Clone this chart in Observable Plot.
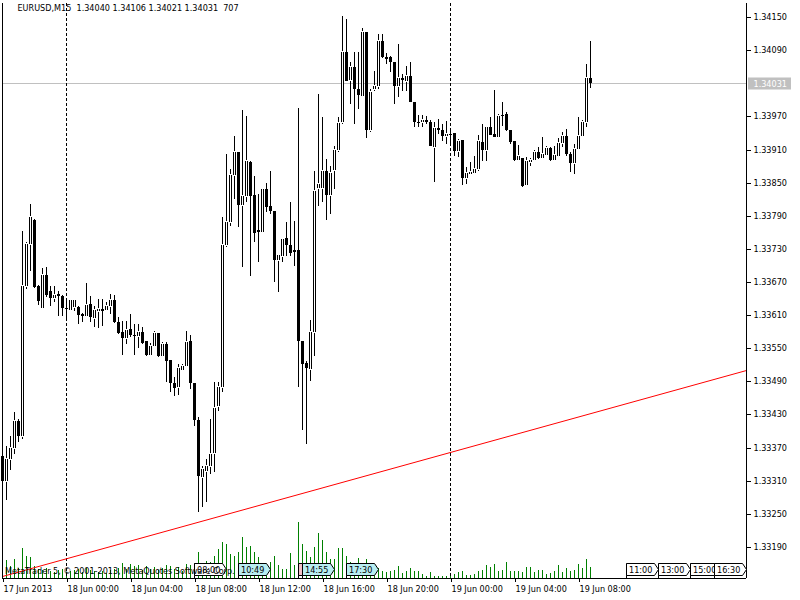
<!DOCTYPE html>
<html><head><meta charset="utf-8">
<script src="https://cdn.jsdelivr.net/npm/d3@7"></script>
<script src="https://cdn.jsdelivr.net/npm/@observablehq/plot@0.6"></script>
<style>
html,body{margin:0;padding:0;background:#fff;}
#chart{position:relative;width:800px;height:600px;overflow:hidden;background:#fff;}
#chart svg{position:absolute;left:0;top:0;}
</style></head><body><div id="chart"></div>
<script>
// ---------------- data ----------------
const symbol = "EURUSD,M15";
const startTime = "2013-06-17T20:00:00Z";   // first 15-minute bar
const barMinutes = 15;

const opens = [1.33355,1.33310,1.33350,1.33369,1.33418,1.33391,1.33663,1.33739,1.33782,1.33663,
1.33623,1.33683,1.33654,1.33641,1.33648,1.33645,1.33623,1.33619,1.33625,1.33625,
1.33612,1.33609,1.33630,1.33605,1.33618,1.33621,1.33619,1.33627,1.33637,1.33598,
1.33580,1.33569,1.33585,1.33574,1.33572,1.33580,1.33563,1.33538,1.33554,1.33578,
1.33536,1.33558,1.33529,1.33487,1.33480,1.33511,1.33518,1.33563,1.33487,1.33420,
1.33317,1.33328,1.33337,1.33360,1.33446,1.33480,1.33737,1.33779,1.33864,1.33905,
1.33810,1.33826,1.33887,1.33828,1.33764,1.33761,1.33839,1.33808,1.33799,1.33710,
1.33717,1.33750,1.33737,1.33728,1.33728,1.33563,1.33523,1.33513,1.33580,1.33840,
1.33840,1.33871,1.33828,1.33873,1.33909,1.33960,1.34087,1.34036,1.34059,1.34020,
1.34007,1.34123,1.33945,1.34020,1.34025,1.34107,1.34078,1.34078,1.34068,1.34025,
1.34040,1.34034,1.34043,1.33996,1.33960,1.33960,1.33963,1.33960,1.33915,1.33949,
1.33945,1.33934,1.33938,1.33940,1.33907,1.33927,1.33858,1.33866,1.33867,1.33875,
1.33924,1.33909,1.33951,1.33938,1.33933,1.33973,1.33974,1.33945,1.33925,1.33891,
1.33895,1.33846,1.33887,1.33891,1.33905,1.33895,1.33900,1.33913,1.33891,1.33898,
1.33922,1.33934,1.33902,1.33886,1.33911,1.33934,1.33960,1.34040];

const highs = [1.33377,1.33373,1.33391,1.33435,1.33422,1.33762,1.33743,1.33811,1.33785,1.33665,
1.33695,1.33697,1.33663,1.33663,1.33654,1.33647,1.33639,1.33639,1.33639,1.33627,
1.33614,1.33668,1.33645,1.33627,1.33639,1.33639,1.33634,1.33648,1.33647,1.33607,
1.33599,1.33599,1.33612,1.33594,1.33594,1.33589,1.33563,1.33560,1.33581,1.33578,
1.33561,1.33561,1.33529,1.33498,1.33522,1.33522,1.33581,1.33574,1.33487,1.33426,
1.33337,1.33350,1.33422,1.33489,1.33489,1.33788,1.33902,1.33875,1.33934,1.33905,
1.33982,1.33971,1.33889,1.33862,1.33829,1.33840,1.33849,1.33871,1.33799,1.33719,
1.33748,1.33779,1.33815,1.33781,1.33985,1.33563,1.33527,1.33601,1.33871,1.34011,
1.33969,1.33893,1.33880,1.33916,1.33969,1.34152,1.34146,1.34068,1.34087,1.34087,
1.34130,1.34123,1.34020,1.34052,1.34119,1.34119,1.34085,1.34079,1.34068,1.34101,
1.34047,1.34061,1.34068,1.33996,1.33973,1.33973,1.33971,1.33963,1.33960,1.33965,
1.33956,1.33962,1.33947,1.33940,1.33929,1.33927,1.33878,1.33887,1.33898,1.33936,
1.33956,1.33951,1.33969,1.34018,1.33974,1.33996,1.33978,1.33945,1.33925,1.33918,
1.33895,1.33896,1.33895,1.33909,1.33915,1.33933,1.33916,1.33915,1.33916,1.33931,
1.33942,1.33947,1.33905,1.33920,1.33969,1.33963,1.34065,1.34106];

const lows = [1.33277,1.33275,1.33330,1.33359,1.33380,1.33386,1.33657,1.33690,1.33659,1.33628,
1.33623,1.33643,1.33627,1.33634,1.33609,1.33609,1.33599,1.33618,1.33618,1.33594,
1.33598,1.33607,1.33598,1.33589,1.33587,1.33590,1.33618,1.33612,1.33596,1.33576,
1.33538,1.33558,1.33570,1.33538,1.33551,1.33558,1.33536,1.33536,1.33552,1.33534,
1.33534,1.33489,1.33471,1.33464,1.33465,1.33509,1.33516,1.33476,1.33409,1.33254,
1.33263,1.33272,1.33322,1.33326,1.33436,1.33471,1.33733,1.33771,1.33820,1.33770,
1.33697,1.33815,1.33681,1.33743,1.33706,1.33759,1.33797,1.33793,1.33670,1.33652,
1.33706,1.33717,1.33717,1.33699,1.33480,1.33402,1.33377,1.33491,1.33536,1.33808,
1.33815,1.33782,1.33793,1.33839,1.33905,1.33956,1.34034,1.33992,1.33956,1.33983,
1.34005,1.33931,1.33942,1.34016,1.34020,1.34076,1.34065,1.34050,1.33992,1.34005,
1.34016,1.34016,1.33996,1.33951,1.33951,1.33951,1.33956,1.33916,1.33851,1.33938,
1.33925,1.33920,1.33920,1.33898,1.33896,1.33846,1.33848,1.33866,1.33867,1.33871,
1.33889,1.33889,1.33936,1.33933,1.33933,1.33953,1.33944,1.33920,1.33889,1.33891,
1.33842,1.33846,1.33880,1.33889,1.33893,1.33893,1.33898,1.33889,1.33889,1.33898,
1.33915,1.33898,1.33869,1.33866,1.33911,1.33933,1.33951,1.34021];

const closes = [1.33310,1.33350,1.33369,1.33418,1.33391,1.33663,1.33739,1.33788,1.33661,1.33636,
1.33683,1.33647,1.33641,1.33647,1.33645,1.33623,1.33621,1.33637,1.33637,1.33610,
1.33609,1.33628,1.33607,1.33619,1.33621,1.33618,1.33627,1.33637,1.33598,1.33578,
1.33569,1.33583,1.33574,1.33572,1.33580,1.33560,1.33538,1.33554,1.33578,1.33536,
1.33558,1.33527,1.33487,1.33478,1.33514,1.33518,1.33561,1.33487,1.33420,1.33319,
1.33331,1.33337,1.33359,1.33442,1.33480,1.33737,1.33779,1.33864,1.33905,1.33810,
1.33826,1.33889,1.33826,1.33759,1.33761,1.33839,1.33806,1.33799,1.33710,1.33719,
1.33748,1.33737,1.33723,1.33724,1.33563,1.33522,1.33514,1.33580,1.33835,1.33848,
1.33871,1.33828,1.33867,1.33909,1.33958,1.34087,1.34034,1.34059,1.34020,1.34009,
1.34123,1.33945,1.34014,1.34025,1.34107,1.34078,1.34074,1.34068,1.34025,1.34040,
1.34036,1.34043,1.33996,1.33960,1.33958,1.33963,1.33960,1.33916,1.33949,1.33945,
1.33934,1.33938,1.33936,1.33907,1.33925,1.33858,1.33867,1.33869,1.33875,1.33925,
1.33909,1.33951,1.33936,1.33933,1.33971,1.33971,1.33945,1.33924,1.33891,1.33898,
1.33844,1.33889,1.33891,1.33905,1.33895,1.33902,1.33913,1.33891,1.33900,1.33922,
1.33934,1.33902,1.33886,1.33911,1.33934,1.33960,1.34040,1.34031];

const volumes = [643,1158,771,1219,637,1925,1412,1347,769,581,
514,642,449,386,516,578,383,451,509,575,
388,640,517,452,381,446,322,511,577,643,
962,578,899,770,835,513,768,579,707,515,
641,833,772,576,706,449,898,834,963,1668,
769,1091,1027,1413,1861,2309,2181,1538,1409,1667,
2628,1988,2052,1665,1346,641,833,1026,1410,833,
577,579,1602,835,3590,2180,1731,1348,1990,2885,
2437,1666,1219,1221,1923,1926,1411,1027,834,1283,
835,1217,836,706,642,449,387,450,514,770,
321,450,641,448,452,259,131,386,129,133,
128,130,130,258,387,450,195,193,257,449,
514,834,706,899,451,513,1028,450,449,452,
386,706,707,385,514,513,257,322,449,834,
386,641,449,514,899,642,1220,707];

// axis ticks and labels
const xTickTimes = ["2013-06-17T20:00:00Z","2013-06-18T00:00:00Z","2013-06-18T04:00:00Z","2013-06-18T08:00:00Z",
  "2013-06-18T12:00:00Z","2013-06-18T16:00:00Z","2013-06-18T20:00:00Z","2013-06-19T00:00:00Z",
  "2013-06-19T04:00:00Z","2013-06-19T08:00:00Z"];
const xTickLabels = ["17 Jun 2013","18 Jun 00:00","18 Jun 04:00","18 Jun 08:00","18 Jun 12:00",
  "18 Jun 16:00","18 Jun 20:00","19 Jun 00:00","19 Jun 04:00","19 Jun 08:00"];
const yTicks = [1.34150,1.34090,1.33970,1.33910,1.33850,1.33790,1.33730,1.33670,1.33610,
  1.33550,1.33490,1.33430,1.33370,1.33310,1.33250,1.33190];

// period separators (day starts)
const separators = ["2013-06-18T00:00:00Z","2013-06-19T00:00:00Z"];

// red trend line anchor points
const trendTimes = ["2013-06-17T20:00:00Z","2013-06-19T18:30:00Z"];
const trendPrices = [1.33138, 1.33511];

// event flags along the bottom
const eventTimes  = ["2013-06-18T08:00:00Z","2013-06-18T10:45:00Z","2013-06-18T14:30:00Z","2013-06-18T14:45:00Z",
  "2013-06-18T17:30:00Z","2013-06-19T11:00:00Z","2013-06-19T13:00:00Z","2013-06-19T15:00:00Z","2013-06-19T16:30:00Z"];
const eventLabels = ["08:00","10:49","","14:55","17:30","11:00","13:00","15:00","16:30"];
const eventFills  = ["#ffffff","#b8eef2","#f4c0c8","#b8eef2","#b8eef2","#ffffff","#ffffff","#ffffff","#ffffff"];

const copyright = "MetaTrader 5, © 2001-2013, MetaQuotes Software Corp.";

// ---------------- build ----------------
const t0 = new Date(startTime);
const bars = opens.map((o, i) => ({
  time: new Date(+t0 + i * barMinutes * 60000),
  open: o, high: highs[i], low: lows[i], close: closes[i], volume: volumes[i]
}));
const bull = bars.filter(d => d.close >= d.open);
const bear = bars.filter(d => d.close < d.open);
const last = bars[bars.length - 1];

const xDomain = [new Date("2013-06-17T20:00:00Z"), new Date("2013-06-19T18:30:00Z")];
const yDomain = [1.331338, 1.341754];
const FONT = "'DejaVu Sans Condensed','DejaVu Sans','Liberation Sans',sans-serif";
const FS = "9px";
const common = {
  width: 800, height: 600,
  marginTop: 3, marginBottom: 22, marginLeft: 2, marginRight: 54,
  style: {background: "transparent", fontFamily: FONT, fontSize: FS, color: "black", overflow: "visible"}
};

const tickLabel = new Map(xTickTimes.map((t, i) => [+new Date(t), xTickLabels[i]]));

// volume layer (own y scale)
const volPlot = Plot.plot({
  ...common,
  x: {type: "utc", domain: xDomain, axis: null},
  y: {domain: [0, 37000], axis: null, round: true},
  marks: [
    Plot.ruleX(bars, {x: "time", y1: 0, y2: "volume", stroke: "#008000", strokeWidth: 1})
  ]
});

// price layer
const header = `${symbol}  ${last.open.toFixed(5)} ${last.high.toFixed(5)} ${last.low.toFixed(5)} ${last.close.toFixed(5)}  ${last.volume}`;
const trend = trendTimes.map((t, i) => ({time: new Date(t), price: trendPrices[i]}));

const mainPlot = Plot.plot({
  ...common,
  x: {type: "utc", domain: xDomain},
  y: {domain: yDomain, round: true},
  marks: [
    Plot.ruleY([last.close], {stroke: "#c0c0c0"}),
    Plot.ruleX(separators.map(s => new Date(s)), {stroke: "black", strokeDasharray: "3,2"}),
    Plot.line(trend, {x: "time", y: "price", stroke: "#ff0000", strokeWidth: 1}),
    // wicks
    Plot.ruleX(bars, {x: "time", y1: "low", y2: "high", stroke: "black"}),
    // bodies
    Plot.ruleX(bear, {x: "time", y1: "open", y2: "close", stroke: "black", strokeWidth: 3}),
    Plot.ruleX(bull, {x: "time", y1: "open", y2: "close", stroke: "black", strokeWidth: 3}),
    Plot.ruleX(bull, {x: "time", y1: "open", y2: "close", stroke: "white", strokeWidth: 1, insetTop: 1, insetBottom: 1}),
    // frame lines
    Plot.ruleX([xDomain[0], xDomain[1]], {stroke: "black"}),
    Plot.ruleY([yDomain[0]], {stroke: "black"}),
    Plot.axisX({ticks: xTickTimes.map(t => new Date(t)), tickFormat: d => tickLabel.get(+d),
      anchor: "bottom", tickSize: 4, tickPadding: 3, textAnchor: "start", dx: 1, label: null}),
    Plot.axisY({ticks: yTicks, tickFormat: d => d.toFixed(5), anchor: "right",
      tickSize: 4, tickPadding: 3, label: null}),
    Plot.text([header], {frameAnchor: "top-left", text: d => d, textAnchor: "start", lineAnchor: "top",
      dx: 15, dy: 1, fill: "black"})
  ]
});

const chart = document.getElementById("chart");
chart.appendChild(volPlot);
chart.appendChild(mainPlot);

// overlays drawn with the main plot's scales
const xs = mainPlot.scale("x"), ys = mainPlot.scale("y");
const svg = d3.select(mainPlot);
const g = svg.append("g").attr("font-family", FONT).attr("font-size", FS).attr("text-anchor", "start");
const axisY = Math.round(ys.apply(yDomain[0])) + 0.5;

// event flags
eventTimes.forEach((t, i) => {
  const x0 = Math.round(xs.apply(new Date(t))) + 0.5;
  const top = axisY - 15, bot = axisY - 3, w = 28, mid = (top + bot) / 2;
  g.append("line").attr("x1", x0).attr("x2", x0).attr("y1", top).attr("y2", axisY).attr("stroke", "black");
  g.append("path")
    .attr("d", `M${x0},${top}H${x0 + w}L${x0 + w + 4},${mid}L${x0 + w},${bot}H${x0}Z`)
    .attr("fill", eventFills[i]).attr("stroke", "black");
  if (eventLabels[i]) {
    g.append("text").attr("x", x0 + 2.5).attr("y", bot - 2.5).attr("fill", "black").text(eventLabels[i]);
  }
});

// copyright
g.append("text").attr("x", xs.apply(xDomain[0]) + 3).attr("y", axisY - 4.5).attr("fill", "black")
  .text(copyright);

// current price label on the axis
const yc = Math.round(ys.apply(last.close)) + 0.5;
const xr = Math.round(xs.apply(xDomain[1])) + 0.5;
g.append("rect").attr("x", xr + 1.5).attr("y", yc - 6).attr("width", 43).attr("height", 12).attr("fill", "#c0c0c0");
g.append("text").attr("x", xr + 7).attr("y", yc + 3.5).attr("fill", "white").text(last.close.toFixed(5));
</script>
</body></html>
